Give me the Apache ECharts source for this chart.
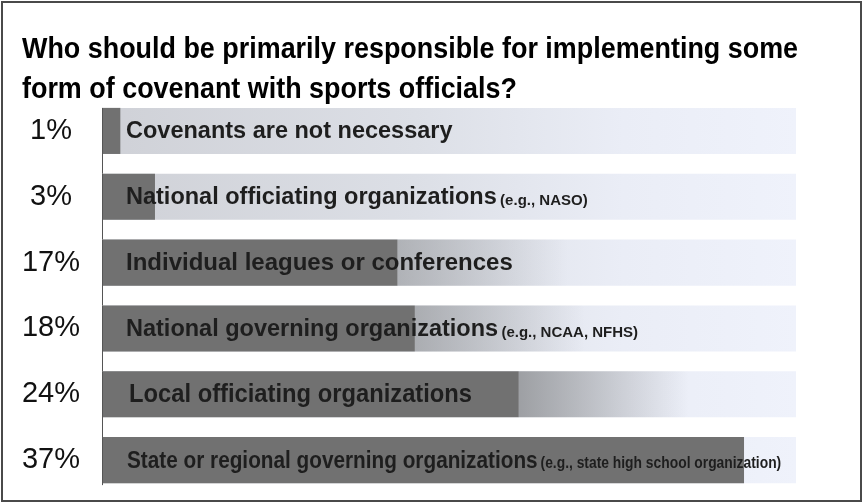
<!DOCTYPE html>
<html>
<head>
<meta charset="utf-8">
<script src="https://cdn.jsdelivr.net/npm/echarts@6/dist/echarts.min.js"></script>
<style>
  html, body { margin: 0; padding: 0; background: #fff; }
  #chart { width: 864px; height: 504px; }
</style>
</head>
<body>
<div id="chart"></div>
<script>
// Survey answers, top to bottom
const categories = [
  'Covenants are not necessary',
  'National officiating organizations',
  'Individual leagues or conferences',
  'National governing organizations',
  'Local officiating organizations',
  'State or regional governing organizations'
];
const notes = ['', '(e.g., NASO)', '', '(e.g., NCAA, NFHS)', '', '(e.g., state high school organization)'];
const shares = [1, 3, 17, 18, 24, 37];
const axisMax = 40;

// Per-row look of the answer text and of the fade after each filled bar
const labelLook = [
  { size: 23.5, note: 15, squeeze: 1, indent: 23 },
  { size: 23.5, note: 15, squeeze: 1, indent: 23 },
  { size: 24, note: 15, squeeze: 1, indent: 23 },
  { size: 23.5, note: 15, squeeze: 1, indent: 23 },
  { size: 25, note: 15, squeeze: 0.95, indent: 26 },
  { size: 24, note: 16, squeeze: 0.865, indent: 24 }
];
const fadeStrength = [0, 0, 0.55, 0.62, 0.8, 0];

const FONT = '"Liberation Sans", Arial, Helvetica, sans-serif';

const chart = echarts.init(document.getElementById('chart'), null, { renderer: 'canvas' });

function renderItem(params, api) {
  const v = api.value(0);
  const idx = api.value(1);
  const origin = api.coord([0, idx]);
  const end = api.coord([v, idx]);
  const full = api.coord([axisMax, idx]);
  const band = api.size([0, 1])[1];
  const h = band * 0.7;
  const top = origin[1] - h / 2;
  const x0 = origin[0];
  const trackW = full[0] - x0;
  const barW = end[0] - x0;
  const tailW = Math.min(170, full[0] - end[0]);
  const last = idx === categories.length - 1;
  const look = labelLook[idx];
  const a = fadeStrength[idx];

  const children = [
    // light track running to the axis end
    {
      type: 'rect',
      shape: { x: x0, y: top, width: trackW, height: h },
      style: {
        fill: new echarts.graphic.LinearGradient(0, 0, 1, 0, [
          { offset: 0, color: '#cfd1d7' },
          { offset: 0.45, color: '#dcdfe6' },
          { offset: 0.75, color: '#eaedf6' },
          { offset: 1, color: '#eff2fb' }
        ])
      }
    },
    // soft fade after the filled part
    {
      type: 'rect',
      shape: { x: end[0], y: top, width: tailW, height: h },
      style: {
        fill: new echarts.graphic.LinearGradient(0, 0, 1, 0, [
          { offset: 0, color: 'rgba(140,142,145,' + a + ')' },
          { offset: 1, color: 'rgba(140,142,145,0)' }
        ])
      }
    },
    // filled share
    {
      type: 'rect',
      shape: { x: x0, y: top, width: barW, height: h },
      style: { fill: '#717171' }
    },
    // axis line segment for this row
    {
      type: 'line',
      shape: { x1: x0 - 0.5, y1: top, x2: x0 - 0.5, y2: last ? top + h + 2 : top + band },
      style: { stroke: '#555', lineWidth: 1 }
    },
    // answer text inside the bar
    {
      type: 'text',
      x: x0 + look.indent,
      y: origin[1] + 1,
      scaleX: look.squeeze,
      style: {
        x: 0,
        y: 0,
        verticalAlign: 'middle',
        text: '{a|' + categories[idx] + '}' + (notes[idx] ? ' {n|' + notes[idx] + '}' : ''),
        rich: {
          a: { fontFamily: FONT, fontWeight: 'bold', fontSize: look.size, fill: '#1e1e1e' },
          n: { fontFamily: FONT, fontWeight: 'bold', fontSize: look.note, fill: '#1e1e1e', padding: [6, 0, 0, 0] }
        }
      }
    }
  ];
  return { type: 'group', children };
}

chart.setOption({
  animation: false,
  backgroundColor: '#fff',
  graphic: [
    {
      type: 'rect',
      shape: { x: 2, y: 2, width: 859, height: 499 },
      style: { fill: 'none', stroke: '#4a4a4a', lineWidth: 2 }
    },
    {
      type: 'text',
      x: 22,
      y: 30,
      scaleX: 0.928,
      style: {
        text: 'Who should be primarily responsible for implementing some\nform of covenant with sports officials?',
        font: 'bold 29px ' + FONT,
        lineHeight: 40,
        fill: '#000'
      }
    }
  ],
  grid: { left: 103, right: 68, top: 98, height: 395, containLabel: false },
  xAxis: { type: 'value', min: 0, max: axisMax, show: false },
  yAxis: {
    type: 'category',
    inverse: true,
    data: categories,
    axisLine: { show: false },
    axisTick: { show: false },
    axisLabel: {
      align: 'center',
      margin: 52,
      fontFamily: FONT,
      fontSize: 29,
      color: '#111',
      formatter: (value, index) => shares[index] + '%'
    }
  },
  series: [{
    type: 'custom',
    renderItem,
    encode: { x: 0, y: 1 },
    data: shares.map((s, i) => [s, i])
  }]
});
</script>
</body>
</html>
